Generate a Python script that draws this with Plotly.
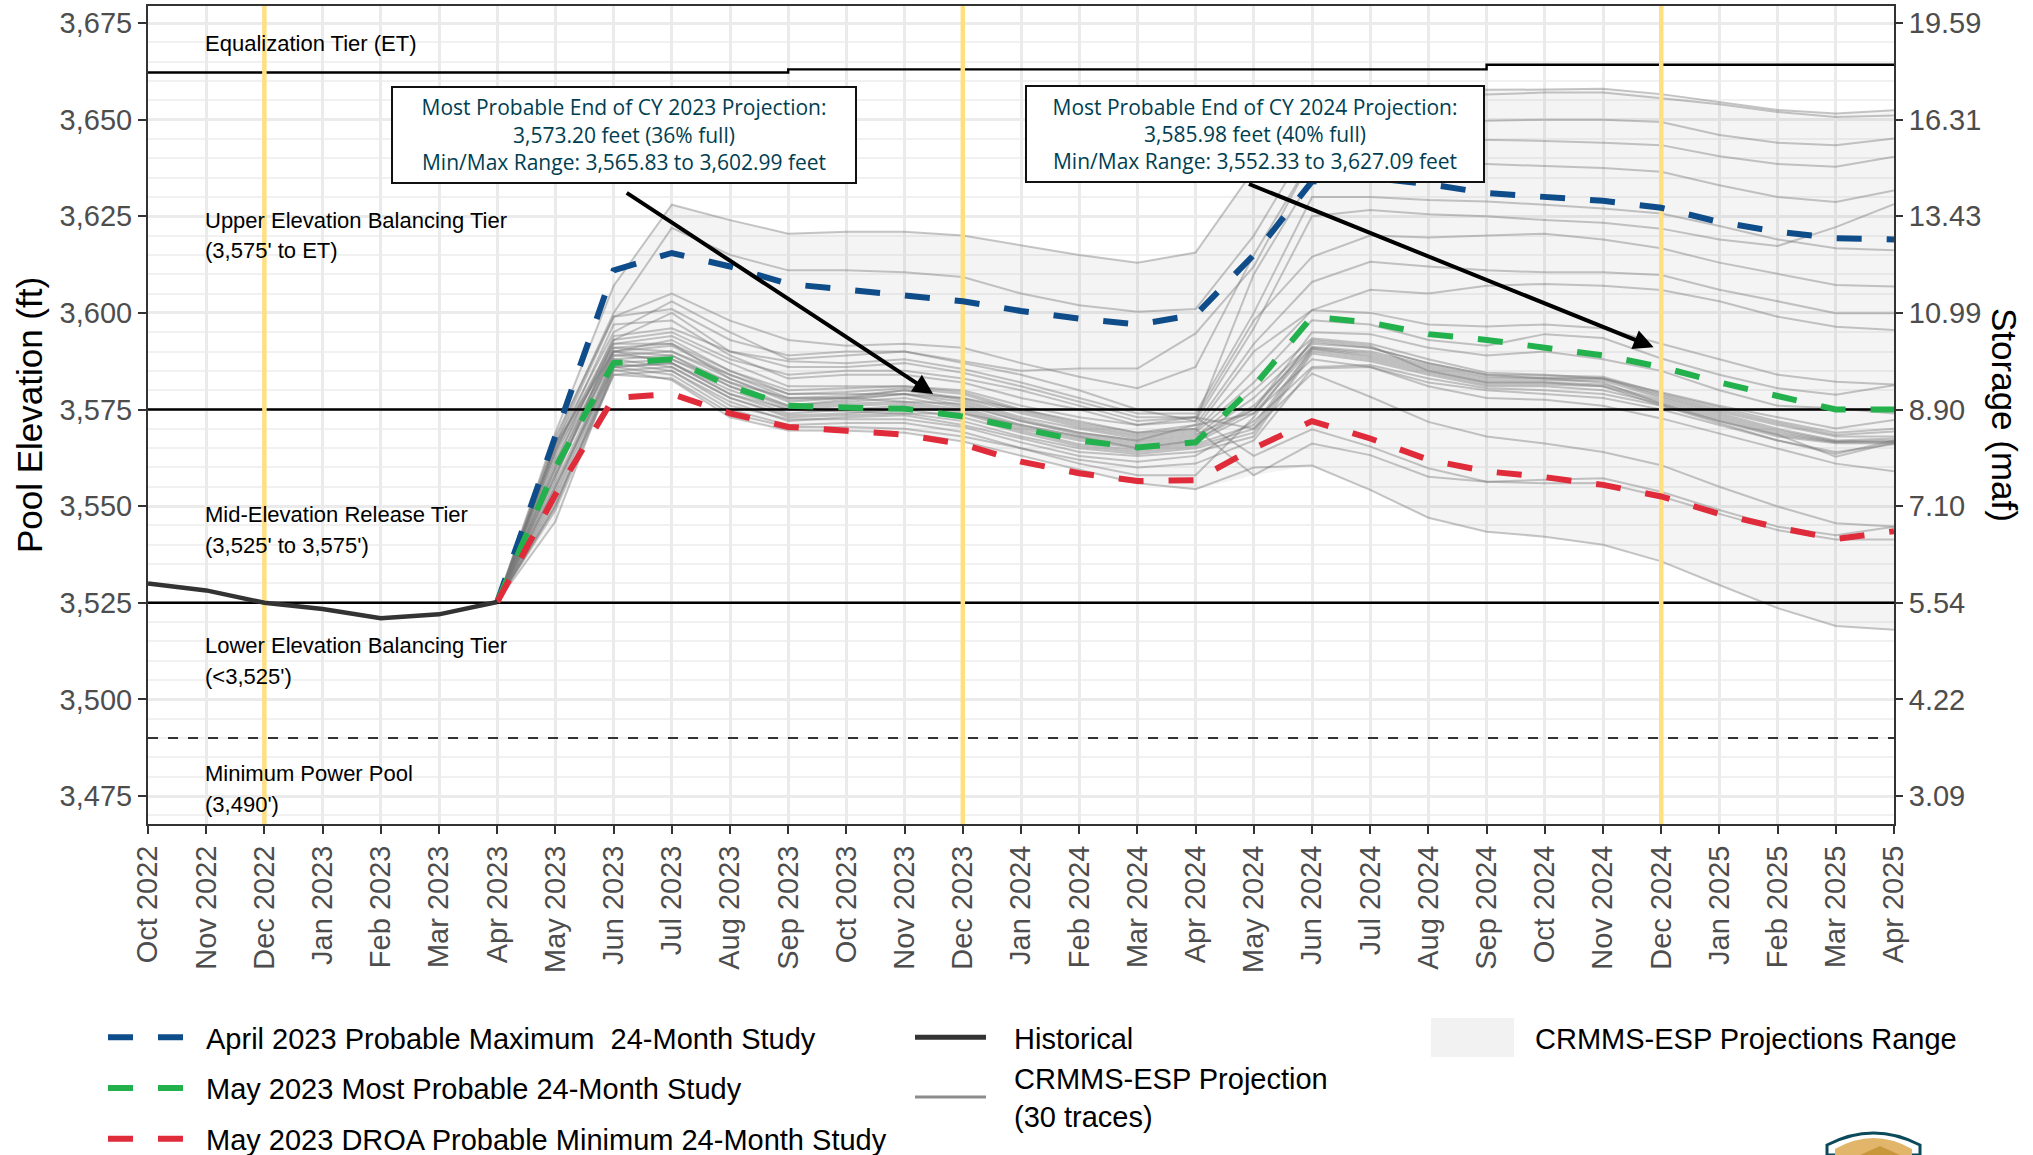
import plotly.graph_objects as go
import numpy as np

months = ["Oct 2022","Nov 2022","Dec 2022","Jan 2023","Feb 2023","Mar 2023","Apr 2023","May 2023","Jun 2023","Jul 2023",
          "Aug 2023","Sep 2023","Oct 2023","Nov 2023","Dec 2023","Jan 2024","Feb 2024","Mar 2024","Apr 2024","May 2024",
          "Jun 2024","Jul 2024","Aug 2024","Sep 2024","Oct 2024","Nov 2024","Dec 2024","Jan 2025","Feb 2025","Mar 2025","Apr 2025"]
proj_months = months[6:]
hist_months = months[:7]
historical = [3530, 3528.2, 3525, 3523.4, 3521, 3522, 3525.2]
start = 3525.2
prob_max = [start,3568,3611,3615.5,3612,3607.5,3606,3604.5,3603,3600.5,3598.5,3597,3599.5,3615,3634,3635,3633.3,3631,3630,3629,3627.2,3623.5,3621,3619.3,3619]
most_prob = [start,3560,3587,3588,3581,3576,3575.5,3575.2,3573.2,3570,3567,3565.2,3566.5,3581,3599,3597.5,3594.5,3593,3591,3589,3586,3582,3578.5,3575,3575]
prob_min = [start,3553,3578,3579,3574,3570.5,3569.5,3568.5,3566,3561.5,3558.5,3556.5,3556.7,3565,3572,3567.5,3562,3559,3557.5,3555.5,3552.5,3548,3544.5,3541.5,3543.5]

# CRMMS-ESP traces: May 2023 .. Apr 2024 | May 2024 .. Apr 2025
esp_traces = [
 [3569,3607,3628,3624,3620.5,3621,3621,3620,3617.5,3615,3613,3615.6, 3637,3650,3650.3,3650,3649.7,3650,3650,3649.4,3646,3644,3643.4,3645.1],
 [3567,3600,3622,3615,3611,3611,3610.5,3609.3,3605,3602,3600.3,3601, 3620,3645,3645.5,3645,3644.8,3644.5,3644,3643.4,3640.5,3638.5,3637.8,3640.4],
 [3568,3599,3605,3598,3593,3591.5,3592,3591,3587,3583.5,3580.5,3586, 3615,3640,3657.6,3657.8,3657.7,3657.8,3658,3656.6,3654.5,3652.5,3651.6,3652.4],
 [3566,3599,3601,3593,3589,3590,3590,3587.5,3585,3585.6,3585.6,3594.7, 3612,3640,3656,3656.5,3656.5,3657,3657,3655.5,3654,3652,3650.7,3651.1],
 [3566,3595,3603,3595,3588,3589,3590,3587,3584,3580,3575,3572, 3610,3635,3638.6,3638.6,3638.5,3638,3637.5,3636.5,3633,3630,3628.7,3631.7],
 [3565,3593,3600,3590,3587.5,3587,3588,3585.5,3582,3578,3574,3574, 3600,3630,3630,3629.2,3628.8,3628,3627,3625.7,3622.5,3619,3616.7,3616.2],
 [3564,3597,3598,3589,3583,3584,3584,3582,3578,3575,3571,3572, 3596,3625,3626.6,3625.5,3625,3624,3623.3,3621.8,3619,3617.3,3622.2,3628.1],
 [3563,3592,3594,3587,3581,3581,3581,3580,3576,3573,3571,3573, 3598,3614.5,3620,3619.5,3620,3620.5,3619,3616.7,3613,3610,3607.2,3606.8],
 [3566,3590,3593,3585,3580,3580.5,3581,3579.5,3575,3572,3569,3571, 3592,3608,3613.2,3612,3611,3610.5,3610.5,3609.8,3606,3603,3599.9,3599.9],
 [3560,3591,3592,3585,3579,3579.5,3580.5,3579,3574.5,3571,3568.5,3570, 3590,3600.7,3606,3605,3607,3607.5,3607,3605.9,3603,3599,3596.4,3595.6],
 [3562,3590,3591.5,3584,3578,3578.5,3580,3578,3574,3570.5,3568,3569.5, 3585,3600.7,3600,3597,3596.5,3597,3596,3592,3588,3584,3582.2,3581.5],
 [3565,3592,3592,3583,3577.5,3578,3580,3577.5,3573,3570,3567.5,3569, 3582,3598.1,3597,3593,3591.5,3594.5,3593.5,3588.2,3584,3580.5,3578.8,3581.3],
 [3558,3589,3590,3583,3577,3578,3579,3577,3572.5,3569,3567,3568.5, 3575,3595,3594.5,3591,3589,3590,3588,3585,3580,3576,3575.3,3574],
 [3560,3590,3589,3582,3576,3577.5,3579,3576,3572,3568.5,3566.5,3568, 3580,3593.4,3592,3588,3584.5,3584,3583,3579.5,3576,3573,3570.1,3572.3],
 [3556,3588,3589,3581,3576,3577,3578,3575.5,3571,3568,3566,3567.5, 3578,3592,3591,3587,3584,3583.8,3583.5,3579.2,3575.5,3572,3569,3570],
 [3555,3587,3588,3581,3575.5,3576.5,3577,3575,3570.5,3567.5,3565.5,3567, 3576,3591.2,3590,3586.5,3583.5,3583.2,3583,3578.8,3575,3571.5,3568.4,3569.3],
 [3558,3590,3587,3580,3575,3576,3576.5,3574.5,3570,3567,3565,3566.5, 3574,3591,3589.5,3586,3583,3583,3583,3578.4,3574.5,3571,3568,3568],
 [3552,3586,3587,3579,3574,3575,3576,3574,3569.5,3566,3564.5,3566, 3571,3590.8,3589,3585.5,3582.5,3582.5,3582.5,3578,3574,3570,3567,3567.5],
 [3554,3588,3586,3578,3573.5,3574,3575,3573,3569,3565.5,3564,3565.5, 3570,3590.5,3588.5,3585,3582,3582,3581.5,3577.5,3573.5,3569.5,3566.8,3567],
 [3550,3585,3586,3578,3573,3573.5,3574,3572,3568,3565,3563.5,3565, 3569,3590,3588,3584.5,3581.5,3581.5,3581,3577,3573,3569,3566.6,3566.7],
 [3553,3587,3585,3577,3572,3573,3573.5,3571,3567.5,3564,3563,3564, 3568,3589.5,3587.5,3584,3581,3581,3580,3576.5,3572.5,3568.5,3566.5,3566.5],
 [3549,3584,3585,3576,3572.5,3572.5,3572.5,3570.5,3566.5,3563,3561.5,3563, 3572,3586,3586.5,3583,3580.5,3580,3579,3576,3572,3568,3566.3,3566.2],
 [3550,3586,3584,3575,3571,3571.5,3571.5,3569.2,3565,3562,3560,3561, 3567,3585.6,3586,3582,3580,3579,3578,3575,3571,3567,3564,3566],
 [3546,3585.3,3582.6,3573,3569.6,3569.5,3569,3566.7,3563,3559.4,3555.9,3554.4, 3560,3560.5,3554.2,3547,3543.4,3542.1,3540,3535.7,3529.6,3523.6,3519,3518],
 [3561,3594,3596,3590,3586,3586,3587,3584.5,3581,3577,3573,3573, 3570,3584.3,3578.3,3571.8,3568,3566.2,3564,3560.6,3555,3549.9,3545.6,3544.7],
 [3557,3593,3595,3588,3584,3585,3585,3583,3580,3576,3572,3573, 3563,3569.9,3565.4,3559.8,3556.3,3556.8,3557.2,3553.7,3549,3544.7,3542.5,3544.7],
 [3564,3591,3590,3584,3579,3579,3579,3578,3575,3571.5,3569,3570, 3558,3566.2,3563.2,3557.6,3556.3,3555.9,3556,3552.5,3548,3543.8,3541.4,3541.4],
 [3559,3589,3588,3582,3578,3578,3577,3576.5,3572,3569,3567,3571, 3574,3588,3586,3581,3578,3577.5,3576,3572.7,3568.8,3565,3561,3559],
 [3555,3586,3587,3579,3575,3574.5,3574,3574,3571,3568,3565,3567, 3575,3592.5,3591,3587,3584,3583,3582,3576.5,3572,3568.5,3562.8,3566.5],
 [3551,3584,3583,3574,3570.5,3570.5,3570,3568,3565,3561,3558,3558, 3573,3593,3591.5,3585,3582,3582,3581,3576,3571.5,3567,3563.5,3567],
]
et_months = ["Oct 2022","Sep 2023","Sep 2024","Apr 2025"]
et_levels = [3662.2,3663.0,3664.2,3664.2]
tier_upper = 3575
tier_lower = 3525
min_power = 3490
year_ends = ["Dec 2022","Dec 2023","Dec 2024"]
elev_ticks = [3475,3500,3525,3550,3575,3600,3625,3650,3675]
storage_ticks = ["3.09","4.22","5.54","7.10","8.90","10.99","13.43","16.31","19.59"]

Y_RANGE = [3467.76, 3679.4]
L, R, T, B = 148, 1894, 6, 824
W, H = 2033, 1155
fx = lambda p: (p - L) / (R - L)
fy = lambda p: (B - p) / (B - T)
BLUE, GREEN, RED = "#0F4C8A", "#22B14C", "#E02B3A"
GRAY = "rgba(120,120,120,0.42)"
TXT = "#4d4d4d"
FONT = "Liberation Sans"
DASH = "25px,25px"

esp = np.array([[start] + row for row in esp_traces])
fig = go.Figure()

# Range ribbon
fig.add_trace(go.Scatter(x=proj_months + proj_months[::-1],
                         y=list(esp.max(axis=0)) + list(esp.min(axis=0))[::-1],
                         mode="lines", line=dict(width=0), fill="toself",
                         fillcolor="rgba(128,128,128,0.09)", showlegend=False, hoverinfo="skip"))
for row in esp:
    fig.add_trace(go.Scatter(x=proj_months, y=list(row), mode="lines",
                             line=dict(color=GRAY, width=2), showlegend=False))
# Reference levels
fig.add_trace(go.Scatter(x=[months[0], months[-1]], y=[tier_upper]*2, mode="lines", line=dict(color="#000", width=2.4), showlegend=False))
fig.add_trace(go.Scatter(x=[months[0], months[-1]], y=[tier_lower]*2, mode="lines", line=dict(color="#000", width=2.4), showlegend=False))
fig.add_trace(go.Scatter(x=[months[0], months[-1]], y=[min_power]*2, mode="lines", line=dict(color="#333", width=2, dash="10px,10px"), showlegend=False))
fig.add_trace(go.Scatter(x=et_months, y=et_levels, mode="lines", line=dict(color="#000", width=2.4, shape="hv"), showlegend=False))
# Year-end markers
for m in year_ends:
    fig.add_trace(go.Scatter(x=[m, m], y=Y_RANGE, mode="lines", line=dict(color="#FFDF80", width=4.5), showlegend=False))

# Studies
fig.add_trace(go.Scatter(x=proj_months, y=prob_max, mode="lines", name="April 2023 Probable Maximum  24-Month Study",
                         line=dict(color=BLUE, width=6, dash=DASH), legend="legend", legendgroup="a"))
fig.add_trace(go.Scatter(x=proj_months, y=most_prob, mode="lines", name="May 2023 Most Probable 24-Month Study",
                         line=dict(color=GREEN, width=6, dash=DASH), legend="legend", legendgroup="b"))
fig.add_trace(go.Scatter(x=proj_months, y=prob_min, mode="lines", name="May 2023 DROA Probable Minimum 24-Month Study",
                         line=dict(color=RED, width=6, dash=DASH), legend="legend", legendgroup="c"))
fig.add_trace(go.Scatter(x=hist_months, y=historical, mode="lines", line=dict(color="#333333", width=4.5), showlegend=False))
# Legend keys of the second column: a single stroke shorter than the key slot
KEY = "71px,300px"
fig.add_trace(go.Scatter(x=[None], y=[None], mode="lines", name="Historical",
                         line=dict(color="#333333", width=5, dash=KEY), legend="legend2", legendgroup="d"))
fig.add_trace(go.Scatter(x=[None], y=[None], mode="lines", name="CRMMS-ESP Projection<br>(30 traces)",
                         line=dict(color="#8c8c8c", width=3, dash=KEY), legend="legend2", legendgroup="e"))
fig.add_trace(go.Scatter(x=[None, None], y=[None, None], mode="lines", name="CRMMS-ESP Projections Range",
                         line=dict(width=0), fill="toself", fillcolor="rgba(242,242,242,0)", legend="legend3"))
# Carrier for the storage axis
fig.add_trace(go.Scatter(x=[months[0]], y=[elev_ticks[0]], yaxis="y2", mode="markers", marker=dict(opacity=0), showlegend=False, hoverinfo="skip"))

def note(text, px, py, size=22, color="#000", **kw):
    fig.add_annotation(text=text, xref="paper", yref="paper", x=fx(px), y=fy(py), showarrow=False,
                       xanchor=kw.pop("xanchor", "left"), yanchor="middle",
                       font=dict(family=FONT, size=size, color=color), **kw)

for text, py in [("Equalization Tier (ET)", 43), ("Upper Elevation Balancing Tier", 221), ("(3,575' to ET)", 251),
                 ("Mid-Elevation Release Tier", 514), ("(3,525' to 3,575')", 545),
                 ("Lower Elevation Balancing Tier", 645), ("(<3,525')", 676),
                 ("Minimum Power Pool", 773), ("(3,490')", 804)]:
    note(text, 203, py)
note("Storage (maf)", 2005, 415, size=35, xanchor="center", textangle=90)

# Arrows
for tip, tail in [((13.49, 3579.0), (8.2, 3631.3)), ((25.87, 3591.1), (18.89, 3633.5))]:
    fig.add_annotation(x=tip[0], y=tip[1], ax=tail[0], ay=tail[1], xref="x", yref="y", axref="x", ayref="y",
                       showarrow=True, arrowhead=2, arrowsize=1, arrowwidth=4, arrowcolor="#000", text="")

# Callouts
for txt, x0, x1, y0, y1 in [
    ("Most Probable End of CY 2023 Projection:<br>3,573.20 feet (36% full)<br>Min/Max Range: 3,565.83 to 3,602.99 feet", 391, 857, 86, 183.5),
    ("Most Probable End of CY 2024 Projection:<br>3,585.98 feet (40% full)<br>Min/Max Range: 3,552.33 to 3,627.09 feet", 1025, 1485, 85, 183),
]:
    fig.add_annotation(text=txt, xref="paper", yref="paper", x=fx((x0 + x1) / 2), y=fy((y0 + y1) / 2),
                       xanchor="center", yanchor="middle", showarrow=False, width=x1 - x0 - 4, height=y1 - y0 - 4, align="center",
                       bgcolor="#fff", bordercolor="#111", borderwidth=2, borderpad=0,
                       font=dict(family="Open Sans", size=21, weight=500, color="#003E51"))

def page_path(points):
    return "M " + " L ".join(f"{fx(x):.5f},{fy(y):.5f}" for x, y in points) + " Z"

def dome(x0, x1, shoulder, top, foot=1155):
    cx = (x0 + x1) / 2
    ctrl = 2 * top - shoulder
    return (f"M {fx(x0):.5f},{fy(foot):.5f} L {fx(x0):.5f},{fy(shoulder):.5f} "
            f"Q {fx(cx):.5f},{fy(ctrl):.5f} {fx(x1):.5f},{fy(shoulder):.5f} "
            f"L {fx(x1):.5f},{fy(foot):.5f} Z")

shapes = [
    # large swatch of the range legend
    dict(type="rect", xref="paper", yref="paper", x0=fx(1431), x1=fx(1514), y0=fy(1018), y1=fy(1057),
         fillcolor="#f2f2f2", line=dict(width=0), layer="below"),
    # partly cropped seal at the foot of the page
    dict(type="path", xref="paper", yref="paper", path=dome(1827, 1920, 1145, 1133), fillcolor="#fff", line=dict(color="#0B4A5A", width=3)),
    dict(type="path", xref="paper", yref="paper", path=dome(1835, 1912, 1149, 1138), fillcolor="#E2B66A", line=dict(width=0)),
    dict(type="path", xref="paper", yref="paper", path=page_path([(1860, 1155), (1880, 1146), (1900, 1155)]), fillcolor="#C9973B", line=dict(width=0)),
]

axis_font = dict(family=FONT, size=29, color=TXT)
legend_font = dict(family=FONT, size=29, color="#000")
fig.update_layout(
    width=W, height=H, autosize=False,
    margin=dict(l=L, r=W - R, t=T, b=H - B, pad=0, autoexpand=False),
    paper_bgcolor="#fff", plot_bgcolor="#fff", font=dict(family=FONT), shapes=shapes, hovermode=False,
    xaxis=dict(type="category", categoryorder="array", categoryarray=months, range=[0, 30], tickmode="array", tickvals=months, ticktext=months,
               tickangle=-90, tickfont=axis_font, ticks="outside", ticklen=8, tickwidth=2, tickcolor="#333",
               showline=True, linecolor="#333", linewidth=2, mirror=True, showgrid=True, gridcolor="#ebebeb", gridwidth=2.5, zeroline=False),
    yaxis=dict(range=Y_RANGE, tickmode="array", tickvals=elev_ticks, tickformat=",", tickfont=axis_font, ticks="outside", ticklen=8, tickwidth=2, tickcolor="#333",
               showline=True, linecolor="#333", linewidth=2, mirror=True, showgrid=True, gridcolor="#ebebeb", gridwidth=3, zeroline=False,
               minor=dict(dtick=5, tick0=3475, showgrid=True, gridcolor="#f1f1f1", gridwidth=2, ticks=""),
               title=dict(text="Pool Elevation (ft)", font=dict(family=FONT, size=35, color="#000"), standoff=6)),
    yaxis2=dict(range=Y_RANGE, overlaying="y", side="right", anchor="x", tickmode="array", tickvals=elev_ticks, ticktext=storage_ticks,
                tickfont=axis_font, ticks="outside", ticklen=8, tickwidth=2, tickcolor="#333", showgrid=False, zeroline=False),
    legend=dict(x=fx(103), y=fy(1012), xanchor="left", yanchor="top", bgcolor="rgba(0,0,0,0)", font=legend_font,
                itemwidth=93, tracegroupgap=10, traceorder="grouped", itemclick=False, itemdoubleclick=False),
    legend2=dict(x=fx(910), y=fy(1012), xanchor="left", yanchor="top", bgcolor="rgba(0,0,0,0)", font=legend_font,
                 itemwidth=94, tracegroupgap=0, traceorder="grouped", itemclick=False, itemdoubleclick=False),
    legend3=dict(x=fx(1421), y=fy(1012), xanchor="left", yanchor="top", bgcolor="rgba(0,0,0,0)", font=legend_font,
                 itemwidth=104, itemclick=False, itemdoubleclick=False),
)
fig.write_html("out.html", config={"displayModeBar": False},
               post_script="document.body.style.margin='0';document.documentElement.style.overflow='hidden';")
